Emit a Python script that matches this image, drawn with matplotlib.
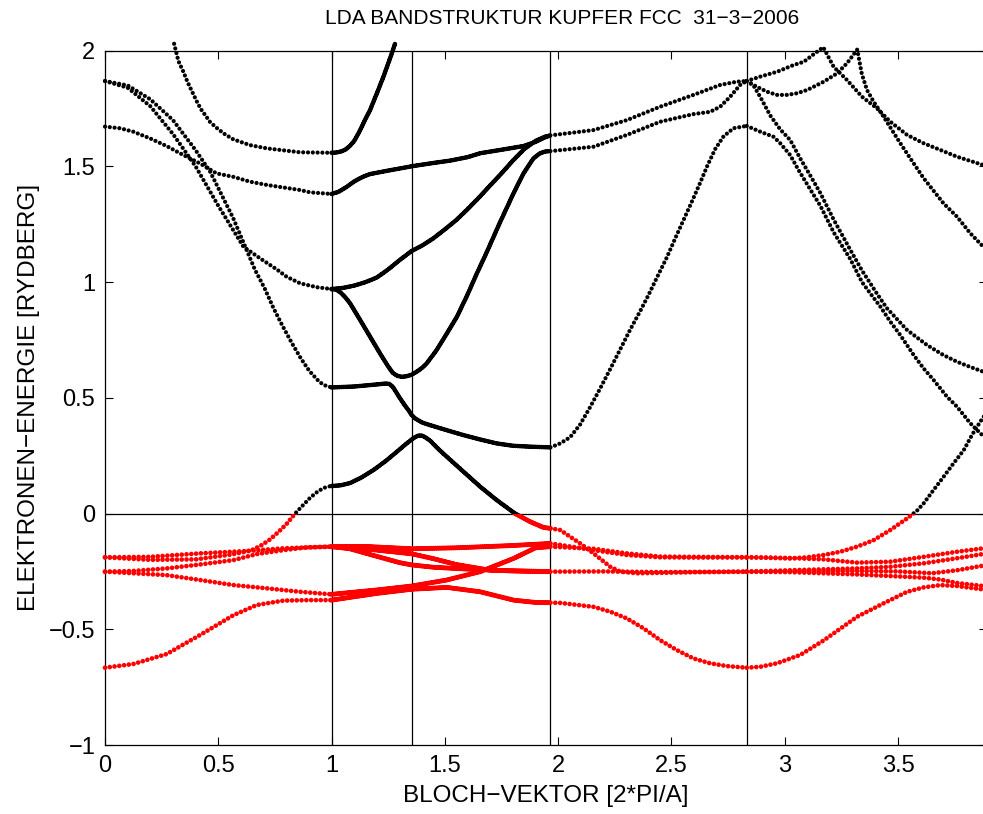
import matplotlib
matplotlib.use("Agg")
import matplotlib.pyplot as plt
from matplotlib.patches import Rectangle

plt.rcParams['font.family'] = ['Liberation Sans', 'DejaVu Sans']

# symmetry points of the path Gamma-X-U-L-Gamma-K (2*pi/a)
sym_k = [1.0, 1.3536, 1.9659, 2.8319]
k_max = 3.8926

x_ticks = [0, 0.5, 1, 1.5, 2, 2.5, 3, 3.5]
x_labels = ['0', '0.5', '1', '1.5', '2', '2.5', '3', '3.5']
y_ticks = [-1, -0.5, 0, 0.5, 1, 1.5, 2]
y_labels = ['\u22121', '\u22120.5', '0', '0.5', '1', '1.5', '2']

# ---------------- Gamma - X ----------------
k_gx_sp = [0, 0.2, 0.4, 0.55, 0.62, 0.655, 0.692, 0.728, 0.766, 0.802, 0.839, 0.861, 0.905, 0.942, 0.97, 1.0]
e_gx_sp = [-0.189, -0.2, -0.198, -0.178, -0.165, -0.155, -0.136, -0.112, -0.079, -0.044, 0.0, 0.023, 0.068, 0.098, 0.112, 0.12]
k_gx_d1 = [0, 0.199, 0.419, 0.64, 0.788, 1.0]
e_gx_d1 = [-0.189, -0.187, -0.172, -0.161, -0.15, -0.143]
k_gx_d2 = [0, 0.125, 0.272, 0.419, 0.567, 0.67, 0.788, 0.891, 1.0]
e_gx_d2 = [-0.251, -0.248, -0.237, -0.22, -0.201, -0.175, -0.158, -0.146, -0.143]
k_gx_d3 = [0, 0.272, 0.419, 0.567, 0.714, 0.861, 1.0]
e_gx_d3 = [-0.251, -0.266, -0.287, -0.309, -0.323, -0.338, -0.349]
k_gx_d4 = [0, 0.125, 0.272, 0.419, 0.567, 0.67, 0.788, 0.9, 1.0]
e_gx_d4 = [-0.666, -0.65, -0.607, -0.525, -0.439, -0.395, -0.376, -0.374, -0.374]
k_gx_c1 = [0.305, 0.324, 0.346, 0.365, 0.386, 0.404, 0.423, 0.445, 0.463, 0.486, 0.523, 0.566, 0.64, 0.714, 0.861, 1.0]
e_gx_c1 = [2.03, 1.955, 1.909, 1.863, 1.82, 1.783, 1.748, 1.718, 1.693, 1.672, 1.643, 1.617, 1.592, 1.578, 1.561, 1.559]
k_gx_c2 = [0, 0.066, 0.125, 0.199, 0.272, 0.346, 0.419, 0.492, 0.566, 0.64, 0.714, 0.861, 0.905, 1.0]
e_gx_c2 = [1.672, 1.665, 1.65, 1.621, 1.588, 1.549, 1.513, 1.47, 1.455, 1.434, 1.42, 1.398, 1.388, 1.381]
k_gx_c3 = [0, 0.1, 0.2, 0.3, 0.4, 0.464, 0.486, 0.566, 0.662, 0.684, 0.706, 0.743, 0.784, 0.824, 0.864, 0.902, 0.945, 0.967, 1.0]
e_gx_c3 = [1.869, 1.85, 1.79, 1.7, 1.57, 1.477, 1.434, 1.276, 1.053, 1.012, 0.97, 0.889, 0.81, 0.738, 0.671, 0.616, 0.57, 0.555, 0.545]
k_gx_c4 = [0, 0.1, 0.2, 0.3, 0.4, 0.5, 0.611, 0.684, 0.758, 0.802, 0.861, 0.935, 1.0]
e_gx_c4 = [1.869, 1.84, 1.76, 1.64, 1.5, 1.33, 1.153, 1.103, 1.055, 1.023, 0.995, 0.978, 0.97]

# ---------------- X - U - L ----------------
k_xl_c1 = [1.0, 1.02, 1.04, 1.06, 1.08, 1.1, 1.12, 1.14, 1.17, 1.2, 1.229, 1.266, 1.28]
e_xl_c1 = [1.559, 1.56, 1.564, 1.572, 1.588, 1.61, 1.645, 1.686, 1.744, 1.816, 1.888, 1.989, 2.03]
k_xl_c2 = [1.0, 1.03, 1.067, 1.1, 1.126, 1.15, 1.17, 1.25, 1.362, 1.45, 1.523, 1.6, 1.656, 1.75, 1.847, 1.9, 1.94, 1.966]
e_xl_c2 = [1.381, 1.39, 1.412, 1.435, 1.449, 1.46, 1.467, 1.482, 1.502, 1.515, 1.525, 1.54, 1.557, 1.572, 1.588, 1.606, 1.625, 1.634]
k_xl_c3 = [1.0, 1.05, 1.1, 1.15, 1.2, 1.25, 1.3, 1.354, 1.4, 1.45, 1.5, 1.55, 1.6, 1.65, 1.7, 1.75, 1.8, 1.85, 1.9, 1.94, 1.966]
e_xl_c3 = [0.97, 0.975, 0.985, 1.0, 1.02, 1.055, 1.095, 1.135, 1.158, 1.19, 1.228, 1.268, 1.315, 1.365, 1.418, 1.47, 1.525, 1.575, 1.61, 1.628, 1.634]
k_xl_c4 = [1.0, 1.02, 1.04, 1.06, 1.082, 1.126, 1.17, 1.214, 1.25, 1.27, 1.29, 1.31, 1.33, 1.354, 1.376, 1.4, 1.42, 1.464, 1.509, 1.553, 1.597, 1.64, 1.685, 1.744, 1.803, 1.847, 1.891, 1.92, 1.945, 1.966]
e_xl_c4 = [0.97, 0.968, 0.955, 0.935, 0.908, 0.836, 0.764, 0.692, 0.635, 0.608, 0.595, 0.591, 0.593, 0.6, 0.613, 0.63, 0.649, 0.707, 0.779, 0.85, 0.94, 1.035, 1.13, 1.26, 1.384, 1.47, 1.535, 1.557, 1.565, 1.566]
k_xl_c5 = [1.0, 1.1, 1.2, 1.24, 1.255, 1.27, 1.285, 1.302, 1.32, 1.339, 1.354, 1.37, 1.4, 1.435, 1.509, 1.582, 1.656, 1.729, 1.8, 1.876, 1.966]
e_xl_c5 = [0.545, 0.549, 0.558, 0.562, 0.56, 0.548, 0.525, 0.498, 0.472, 0.447, 0.425, 0.41, 0.393, 0.382, 0.36, 0.339, 0.32, 0.303, 0.293, 0.289, 0.286]
k_xl_sp = [1.0, 1.04, 1.082, 1.13, 1.185, 1.24, 1.288, 1.33, 1.36, 1.38, 1.395, 1.41, 1.435, 1.47, 1.509, 1.582, 1.656, 1.729, 1.81, 1.876, 1.935, 1.966]
e_xl_sp = [0.119, 0.122, 0.132, 0.155, 0.188, 0.228, 0.267, 0.302, 0.325, 0.336, 0.338, 0.332, 0.315, 0.28, 0.245, 0.181, 0.116, 0.058, 0.0, -0.035, -0.06, -0.064]
k_xl_d1 = [1.0, 1.15, 1.354, 1.55, 1.8, 1.966]
e_xl_d1 = [-0.143, -0.142, -0.152, -0.148, -0.138, -0.129]
k_xl_d2 = [1.0, 1.1, 1.2, 1.354, 1.45, 1.55, 1.7, 1.966]
e_xl_d2 = [-0.143, -0.148, -0.158, -0.174, -0.195, -0.22, -0.245, -0.251]
k_xl_d3 = [1.0, 1.08, 1.2, 1.3, 1.354, 1.45, 1.6, 1.8, 1.966]
e_xl_d3 = [-0.143, -0.152, -0.185, -0.212, -0.222, -0.232, -0.24, -0.248, -0.251]
k_xl_d4 = [1.0, 1.2, 1.354, 1.509, 1.656, 1.803, 1.9, 1.966]
e_xl_d4 = [-0.349, -0.33, -0.313, -0.287, -0.251, -0.194, -0.148, -0.143]
k_xl_d5 = [1.0, 1.2, 1.354, 1.509, 1.656, 1.803, 1.9, 1.966]
e_xl_d5 = [-0.374, -0.345, -0.327, -0.319, -0.338, -0.374, -0.384, -0.385]

# ---------------- L - Gamma ----------------
k_lg_c1 = [1.966, 2.156, 2.303, 2.45, 2.597, 2.715, 2.788, 2.832]
e_lg_c1 = [1.634, 1.657, 1.7, 1.758, 1.809, 1.852, 1.866, 1.869]
k_lg_c2 = [1.966, 2.156, 2.303, 2.45, 2.597, 2.671, 2.715, 2.759, 2.803, 2.832]
e_lg_c2 = [1.566, 1.585, 1.636, 1.693, 1.726, 1.736, 1.758, 1.801, 1.852, 1.869]
k_lg_c3 = [1.966, 2.009, 2.053, 2.097, 2.141, 2.185, 2.23, 2.274, 2.318, 2.362, 2.399, 2.436, 2.481, 2.517, 2.554, 2.591, 2.627, 2.657, 2.693, 2.73, 2.774, 2.832]
e_lg_c3 = [0.286, 0.303, 0.33, 0.385, 0.46, 0.54, 0.625, 0.71, 0.795, 0.875, 0.945, 1.02, 1.11, 1.19, 1.27, 1.35, 1.43, 1.5, 1.575, 1.63, 1.665, 1.675]
k_lg_d1 = [1.966, 2.156, 2.303, 2.45, 2.6, 2.832]
e_lg_d1 = [-0.129, -0.158, -0.179, -0.189, -0.19, -0.189]
k_lg_d2 = [1.966, 2.156, 2.303, 2.45, 2.832]
e_lg_d2 = [-0.143, -0.152, -0.172, -0.186, -0.189]
k_lg_sp = [1.966, 2.009, 2.053, 2.097, 2.156, 2.23, 2.274, 2.35, 2.45, 2.6, 2.832]
e_lg_sp = [-0.064, -0.071, -0.1, -0.129, -0.172, -0.23, -0.251, -0.258, -0.256, -0.253, -0.251]
k_lg_d3 = [1.966, 2.2, 2.45, 2.7, 2.832]
e_lg_d3 = [-0.251, -0.25, -0.253, -0.252, -0.251]
k_lg_d4 = [1.966, 2.009, 2.156, 2.23, 2.303, 2.377, 2.45, 2.524, 2.597, 2.671, 2.744, 2.832]
e_lg_d4 = [-0.385, -0.386, -0.403, -0.424, -0.453, -0.496, -0.547, -0.59, -0.626, -0.647, -0.659, -0.666]

# ---------------- Gamma - K ----------------
k_gk_c1 = [2.832, 2.892, 2.966, 3.039, 3.084, 3.128, 3.17, 3.216, 3.275, 3.341, 3.407, 3.466, 3.54, 3.613, 3.687, 3.76, 3.876, 3.893]
e_gk_c1 = [1.869, 1.888, 1.909, 1.938, 1.952, 1.985, 2.015, 1.93, 1.873, 1.801, 1.751, 1.693, 1.636, 1.6, 1.571, 1.542, 1.506, 1.502]
k_gk_c2 = [2.832, 2.877, 2.921, 2.965, 3.01, 3.054, 3.098, 3.172, 3.231, 3.275, 3.32, 3.34, 3.363, 3.392, 3.436, 3.51, 3.554, 3.613, 3.701, 3.76, 3.819, 3.876, 3.893]
e_gk_c2 = [1.869, 1.844, 1.823, 1.809, 1.809, 1.816, 1.83, 1.866, 1.902, 1.946, 2.005, 1.9, 1.83, 1.78, 1.715, 1.6, 1.535, 1.449, 1.34, 1.283, 1.211, 1.153, 1.14]
k_gk_c3 = [2.832, 2.862, 2.892, 2.936, 2.98, 3.024, 3.068, 3.113, 3.157, 3.216, 3.289, 3.341, 3.407, 3.451, 3.54, 3.628, 3.7, 3.76, 3.82, 3.876, 3.893]
e_gk_c3 = [1.869, 1.85, 1.8, 1.72, 1.66, 1.614, 1.535, 1.46, 1.385, 1.27, 1.14, 1.05, 0.95, 0.887, 0.793, 0.728, 0.685, 0.656, 0.633, 0.613, 0.607]
k_gk_c4 = [2.832, 2.892, 2.951, 2.98, 3.024, 3.061, 3.113, 3.157, 3.216, 3.289, 3.341, 3.377, 3.422, 3.466, 3.51, 3.569, 3.613, 3.657, 3.716, 3.76, 3.819, 3.863, 3.893]
e_gk_c4 = [1.675, 1.65, 1.628, 1.6, 1.549, 1.484, 1.4, 1.33, 1.215, 1.1, 1.0, 0.952, 0.894, 0.829, 0.771, 0.685, 0.627, 0.577, 0.505, 0.462, 0.39, 0.347, 0.32]
k_gk_sp = [2.832, 2.9, 3.024, 3.098, 3.172, 3.245, 3.319, 3.392, 3.466, 3.54, 3.583, 3.613, 3.657, 3.701, 3.745, 3.79, 3.826, 3.863, 3.893]
e_gk_sp = [-0.189, -0.19, -0.194, -0.189, -0.179, -0.165, -0.143, -0.115, -0.071, -0.021, 0.012, 0.044, 0.102, 0.159, 0.217, 0.274, 0.339, 0.397, 0.44]
k_gk_d1 = [2.832, 3.024, 3.172, 3.319, 3.466, 3.613, 3.76, 3.893]
e_gk_d1 = [-0.189, -0.192, -0.198, -0.212, -0.208, -0.187, -0.165, -0.148]
k_gk_d2 = [2.832, 3.024, 3.319, 3.466, 3.613, 3.76, 3.893]
e_gk_d2 = [-0.251, -0.245, -0.237, -0.23, -0.215, -0.193, -0.172]
k_gk_d3 = [2.832, 3.024, 3.319, 3.466, 3.613, 3.687, 3.76, 3.893]
e_gk_d3 = [-0.251, -0.253, -0.263, -0.27, -0.277, -0.285, -0.3, -0.315]
k_gk_d4 = [2.832, 3.024, 3.319, 3.5, 3.65, 3.76, 3.893]
e_gk_d4 = [-0.251, -0.25, -0.248, -0.25, -0.258, -0.245, -0.222]
k_gk_d5 = [2.832, 2.892, 2.965, 3.068, 3.172, 3.319, 3.436, 3.54, 3.613, 3.687, 3.76, 3.893]
e_gk_d5 = [-0.666, -0.662, -0.647, -0.611, -0.548, -0.446, -0.388, -0.338, -0.319, -0.309, -0.313, -0.33]

# coarse k-mesh on Gamma-X, L-Gamma, Gamma-K; fine mesh on X-U-L
sparse = [(k_gx_sp, e_gx_sp), (k_gx_d1, e_gx_d1), (k_gx_d2, e_gx_d2), (k_gx_d3, e_gx_d3),
          (k_gx_d4, e_gx_d4), (k_gx_c1, e_gx_c1), (k_gx_c2, e_gx_c2), (k_gx_c3, e_gx_c3),
          (k_gx_c4, e_gx_c4),
          (k_lg_c1, e_lg_c1), (k_lg_c2, e_lg_c2), (k_lg_c3, e_lg_c3), (k_lg_d1, e_lg_d1),
          (k_lg_d2, e_lg_d2), (k_lg_sp, e_lg_sp), (k_lg_d3, e_lg_d3), (k_lg_d4, e_lg_d4),
          (k_gk_c1, e_gk_c1), (k_gk_c2, e_gk_c2), (k_gk_c3, e_gk_c3), (k_gk_c4, e_gk_c4),
          (k_gk_sp, e_gk_sp), (k_gk_d1, e_gk_d1), (k_gk_d2, e_gk_d2), (k_gk_d3, e_gk_d3),
          (k_gk_d4, e_gk_d4), (k_gk_d5, e_gk_d5)]
dense = [(k_xl_c1, e_xl_c1), (k_xl_c2, e_xl_c2), (k_xl_c3, e_xl_c3), (k_xl_c4, e_xl_c4),
         (k_xl_c5, e_xl_c5), (k_xl_sp, e_xl_sp), (k_xl_d1, e_xl_d1), (k_xl_d2, e_xl_d2),
         (k_xl_d3, e_xl_d3), (k_xl_d4, e_xl_d4), (k_xl_d5, e_xl_d5)]

fig = plt.figure(figsize=(9.83, 8.14), dpi=100)
ax = fig.add_axes([105 / 983, 69 / 814, 882 / 983, 694.3 / 814])

ax.set_xlim(0, k_max)
ax.set_ylim(-1, 2)

# reference lines: Fermi level and symmetry points
ax.axhline(0, color='black', lw=0.9, zorder=1)
for kk in sym_k:
    ax.axvline(kk, color='black', lw=0.9, zorder=1)

above = Rectangle((-1, 0), 10, 10, transform=ax.transData)
below = Rectangle((-1, -10), 10, 10, transform=ax.transData)

PX = 0.72  # points per pixel at dpi 100


def draw_band(k, e, step_px, black_px, red_px):
    for col, size_px, clip in (('black', black_px, above), ('red', red_px, below)):
        gap = step_px / size_px
        ln, = ax.plot(k, e, color=col, lw=size_px * PX,
                      linestyle=(0, (0.01, gap - 0.01)),
                      dash_capstyle='round', zorder=3)
        ln.set_clip_path(clip)


for k, e in sparse:
    draw_band(k, e, 4.8, 4.2, 4.7)
for k, e in dense:
    draw_band(k, e, 2.0, 4.6, 5.0)

ax.set_xticks(x_ticks)
ax.set_xticklabels(x_labels)
ax.set_yticks(y_ticks)
ax.set_yticklabels(y_labels)
ax.tick_params(direction='in', length=6, width=0.8, top=True, right=True,
               labelsize=17, pad=7)
for sp in ax.spines.values():
    sp.set_linewidth(0.9)

ax.set_title('LDA BANDSTRUKTUR KUPFER FCC  31\u22123\u22122006', fontsize=15, pad=19, x=0.518)
ax.set_xlabel('BLOCH\u2212VEKTOR [2*PI/A]', fontsize=17.5, labelpad=6)
ax.set_ylabel('ELEKTRONEN\u2212ENERGIE [RYDBERG]', fontsize=17.5, labelpad=6)

fig.savefig('out.png', dpi=100)
